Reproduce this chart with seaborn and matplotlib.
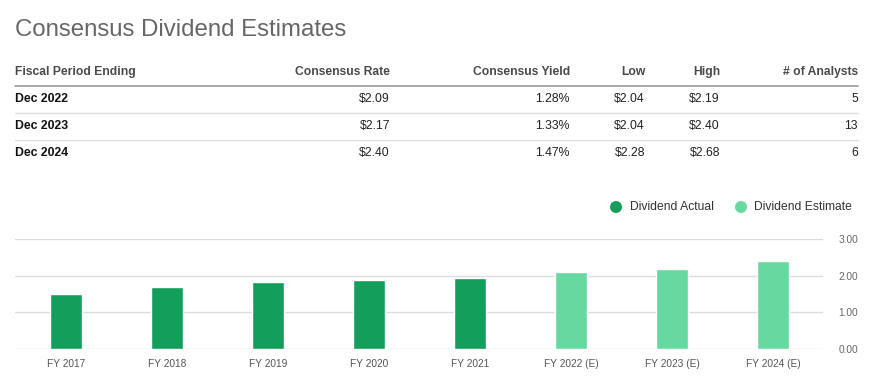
import matplotlib
matplotlib.use("Agg")
import matplotlib.pyplot as plt
import seaborn as sns
import pandas as pd
from matplotlib.lines import Line2D
from matplotlib.patches import Ellipse

# ---- data ----
periods = ["Dec 2022", "Dec 2023", "Dec 2024"]
cons_rate = ["$2.09", "$2.17", "$2.40"]
cons_yield = ["1.28%", "1.33%", "1.47%"]
low = ["$2.04", "$2.04", "$2.28"]
high = ["$2.19", "$2.40", "$2.68"]
analysts = ["5", "13", "6"]
headers = ["Fiscal Period Ending", "Consensus Rate", "Consensus Yield", "Low", "High", "# of Analysts"]

fy_labels = ["FY 2017", "FY 2018", "FY 2019", "FY 2020", "FY 2021",
             "FY 2022 (E)", "FY 2023 (E)", "FY 2024 (E)"]
dividends = [1.51, 1.70, 1.84, 1.89, 1.94, 2.09, 2.17, 2.40]
kinds = ["Dividend Actual"] * 5 + ["Dividend Estimate"] * 3
yticks = [0, 1, 2, 3]

c_actual = "#139e5b"
c_est = "#66d9a0"

W, H = 870, 382
sns.set_theme(style="white")
plt.rcParams["font.family"] = ["Liberation Sans", "DejaVu Sans"]

fig = plt.figure(figsize=(W / 100, H / 100), dpi=100)
fig.patch.set_facecolor("white")

def fx(x):
    return x / W

def fy(y):
    return 1 - y / H

# title
fig.text(fx(15), fy(30), "Consensus Dividend Estimates", fontsize=17.3,
         color="#666666", va="center", ha="left")

# table
col_x = [15, 390, 570, 645, 720, 858]
col_ha = ["left", "right", "right", "right", "right", "right"]
for x, ha, h in zip(col_x, col_ha, headers):
    fig.text(fx(x), fy(72), h, fontsize=8.7, color="#4a4a4a", ha=ha, va="center",
             fontweight="semibold")
fig.add_artist(Line2D([fx(15), fx(858)], [fy(86), fy(86)], color="#9a9a9a", lw=1.2))
rows = list(zip(periods, cons_rate, cons_yield, low, high, analysts))
for i, row in enumerate(rows):
    y = 99 + 27 * i
    for j, (x, ha, val) in enumerate(zip(col_x, col_ha, row)):
        fig.text(fx(x), fy(y), val, fontsize=8.8, color="#111111" if j == 0 else "#222222",
                 ha=ha, va="center", fontweight="bold" if j == 0 else "normal")
    if i < len(rows) - 1:
        fig.add_artist(Line2D([fx(15), fx(858)], [fy(y + 14), fy(y + 14)],
                              color="#dddddd", lw=1))

# legend
for cx, tx, lab, col in [(616, 630, "Dividend Actual", c_actual),
                         (741, 754, "Dividend Estimate", c_est)]:
    fig.add_artist(Ellipse((fx(cx), fy(207)), width=12 / W, height=12 / H,
                           facecolor=col, edgecolor="none", transform=fig.transFigure))
    fig.text(fx(tx), fy(207), lab, fontsize=8.7, color="#333333", ha="left", va="center")

# chart
left, right, top, bottom = 15, 823, 239, 349
ax = fig.add_axes([fx(left), fy(bottom), (right - left) / W, (bottom - top) / H])
df = pd.DataFrame({"period": fy_labels, "dividend": dividends, "kind": kinds})
sns.barplot(data=df, x="period", y="dividend", hue="kind", dodge=False,
            palette={"Dividend Actual": c_actual, "Dividend Estimate": c_est},
            width=0.325, saturation=1, ax=ax, legend=False)
ax.set_xlim(-(66 - left) / 101, (right - 66) / 101)
ax.set_ylim(0, 3)
ax.set_yticks(yticks)
ax.set_yticklabels([f"{v:.2f}" for v in yticks])
ax.yaxis.tick_right()
ax.grid(axis="y", color="#dcdcdc", lw=1)
ax.set_axisbelow(True)
for s in ax.spines.values():
    s.set_visible(False)
ax.tick_params(axis="y", length=0, pad=11, labelsize=7.3, labelcolor="#666666")
ax.tick_params(axis="x", length=0, pad=7, labelsize=7.3, labelcolor="#555555")
ax.set_xlabel("")
ax.set_ylabel("")
ax.set_facecolor("none")

fig.savefig("out.png", dpi=100, facecolor="white")
